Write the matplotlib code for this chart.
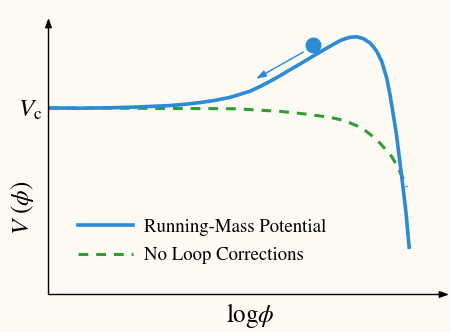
import numpy as np
import matplotlib
matplotlib.use("Agg")
import matplotlib.pyplot as plt
from matplotlib.lines import Line2D

plt.rcParams['mathtext.fontset'] = 'stix'
plt.rcParams['font.family'] = ['STIXGeneral', 'DejaVu Serif']

# log(phi) and V(phi) in units of Vc
log_phi_rm = [0.01, 0.875, 1.708, 2.542, 3.375, 3.792, 4.208, 4.625, 5.042, 5.597,
              5.875, 6.153, 6.431, 6.708, 6.986, 7.264, 7.542, 7.819, 8.097, 8.236,
              8.375, 8.561, 8.744, 8.931, 9.028, 9.117, 9.256, 9.394, 9.486, 9.578,
              9.667, 9.764, 9.847, 9.931, 10.022]
V_rm = [1.000, 0.999, 1.001, 1.006, 1.013, 1.020, 1.029, 1.041, 1.057, 1.090,
        1.115, 1.143, 1.173, 1.205, 1.236, 1.268, 1.300, 1.331, 1.361, 1.371,
        1.379, 1.382, 1.372, 1.349, 1.327, 1.304, 1.250, 1.161, 1.071, 0.964,
        0.855, 0.705, 0.576, 0.437, 0.244]

log_phi_tree = [0.01, 1.431, 2.819, 4.208, 5.125, 5.736, 6.431, 7.125, 7.819, 8.097,
                8.375, 8.708, 8.958, 9.208, 9.375, 9.542, 9.653, 9.764, 9.861, 9.958]
V_tree = [1.000, 1.000, 0.998, 0.997, 0.996, 0.990, 0.982, 0.968, 0.950, 0.938,
          0.920, 0.893, 0.855, 0.812, 0.775, 0.737, 0.700, 0.657, 0.619, 0.576]

# field position (ball) and roll direction
ball = (7.356, 1.339)
roll_start = (7.078, 1.300)
roll_end = (5.764, 1.157)

blue = '#2b8bd6'
green = '#2e9e34'
bg = '#fcfaf2'

W, H = 450, 332
fig = plt.figure(figsize=(W / 100, H / 100), dpi=100, facecolor=bg)
x0, x1, y0, y1 = 48.5, 449, 294.5, 18
ax = fig.add_axes([x0 / W, 1 - y0 / H, (x1 - x0) / W, (y0 - y1) / H])
ax.set_facecolor(bg)
ax.set_xlim(0, (x1 - x0) / 36)
ax.set_ylim(0, (y0 - y1) / 186.5)
for s in ax.spines.values():
    s.set_visible(False)

# axes with arrow heads
arr = dict(arrowstyle='-|>,head_length=0.55,head_width=0.2', color='black', lw=1.0,
           shrinkA=0, shrinkB=0)
ax.annotate('', xy=(1.0, 0), xytext=(0, 0), xycoords='axes fraction', arrowprops=arr)
ax.annotate('', xy=(0, 1.0), xytext=(0, 0), xycoords='axes fraction', arrowprops=arr)

ax.plot(log_phi_tree, V_tree, color=green, lw=2.2, dashes=(3.2, 2.6), solid_capstyle='butt')
ax.plot(log_phi_rm, V_rm, color=blue, lw=2.6, solid_capstyle='butt',
        solid_joinstyle='round')

ax.plot(*ball, 'o', color=blue, ms=11.5, mec='none')
ax.annotate('', xy=roll_end, xytext=roll_start,
            arrowprops=dict(arrowstyle='-|>,head_length=0.6,head_width=0.2',
                            color=blue, lw=1.0, shrinkA=0, shrinkB=0))

ax.set_xticks([])
ax.set_yticks([1.0])
ax.set_yticklabels([r'$V_{\rm c}$'], fontsize=18)
ax.tick_params(axis='y', length=0, pad=4.5)

ax.text(-0.066, (y0 - 208) / (y0 - y1), r'$V\ (\phi)$', transform=ax.transAxes,
        rotation=90, fontsize=18, ha='center', va='center')
ax.text((250 - x0) / (x1 - x0), (y0 - 316) / (y0 - y1), r'$\mathrm{log}\phi$',
        transform=ax.transAxes, fontsize=18, ha='center', va='center')

handles = [Line2D([], [], color=blue, lw=2.6),
           Line2D([], [], color=green, lw=2.2, dashes=(3.2, 2.6))]
labels = ['Running-Mass Potential', 'No Loop Corrections']
fig.legend(handles, labels, loc='center left', bbox_to_anchor=(78 / W, 1 - 241.5 / H),
           frameon=False, fontsize=13.5, handlelength=2.93, handletextpad=0.59,
           labelspacing=0.62, borderpad=0, borderaxespad=0)

fig.savefig('out.png', dpi=100, facecolor=bg)
